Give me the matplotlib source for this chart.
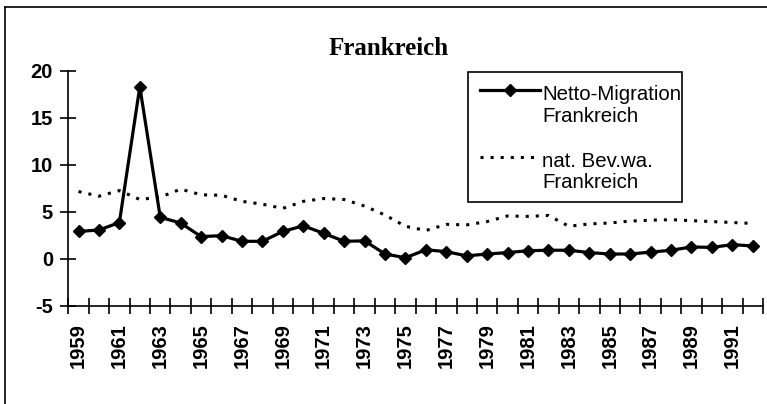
import matplotlib
matplotlib.use("Agg")
import matplotlib.pyplot as plt
from matplotlib.lines import Line2D
from matplotlib.patches import Rectangle
from matplotlib.transforms import Affine2D
import numpy as np

years = list(range(1959, 1993))
netto_migration = [2.9, 3.05, 3.85, 18.3, 4.4, 3.8, 2.35, 2.45, 1.85, 1.85,
                   2.9, 3.5, 2.7, 1.85, 1.9, 0.5, 0.1, 0.95, 0.75, 0.3,
                   0.5, 0.65, 0.85, 0.9, 0.9, 0.65, 0.5, 0.5, 0.7, 0.9,
                   1.25, 1.2, 1.5, 1.35]
nat_bevwa = [7.15, 6.65, 7.25, 6.3, 6.55, 7.4, 6.8, 6.75, 6.1, 5.8,
             5.35, 6.1, 6.4, 6.3, 5.6, 4.65, 3.45, 3.0, 3.65, 3.6,
             3.95, 4.55, 4.5, 4.6, 3.45, 3.7, 3.8, 4.0, 4.1, 4.15,
             4.05, 3.95, 3.85, 3.75]
labels = ["Netto-Migration\nFrankreich", "nat. Bev.wa.\nFrankreich"]
title = "Frankreich"
yticks = [-5, 0, 5, 10, 15, 20]

plt.rcParams['font.family'] = ['Liberation Sans', 'DejaVu Sans']

W, H = 767, 404
fig = plt.figure(figsize=(W / 100, H / 100), dpi=100)
# pixel coordinates measured from the top-left corner
px = Affine2D().scale(1 / W, -1 / H).translate(0, 1) + fig.transFigure

ax = fig.add_axes([68.3 / W, 1 - 305.7 / H, (763 - 68.3) / W, (305.7 - 70.7) / H])

x = np.arange(len(years))
solid_style = dict(color='black', lw=2.3, marker='D', ms=6.4)
dotted_style = dict(color='black', lw=2.2, linestyle=(0, (1, 2.3)))
ax.plot(x, netto_migration, zorder=3, **solid_style)
ax.plot(x, nat_bevwa, zorder=2, **dotted_style)

ax.set_xlim(-0.5, len(years) - 0.5)
ax.set_ylim(-5, 20)
for s in ['top', 'right']:
    ax.spines[s].set_visible(False)
for s in ['left', 'bottom']:
    ax.spines[s].set_linewidth(1.2)

ax.set_yticks(yticks)
ax.set_yticklabels([str(v) for v in yticks])
ax.tick_params(axis='y', direction='inout', length=12, width=1.2, pad=5,
               labelsize=14.5)

ax.set_xticks(np.arange(len(years) + 1) - 0.5)
ax.set_xticklabels([])
ax.tick_params(axis='x', which='major', direction='inout', length=12, width=1.2)
ax.set_xticks(x[::2], minor=True)
ax.set_xticklabels([str(y) for y in years[::2]], minor=True, rotation=90,
                   fontsize=14.5)
ax.tick_params(axis='x', which='minor', length=0, pad=12.5)

for lab in ax.get_yticklabels() + ax.get_xticklabels(minor=True):
    lab.set_fontweight('bold')

fig.text(389 / W, 1 - 55 / H, title, family='Liberation Serif',
         fontweight='bold', fontsize=18, ha='center', va='baseline')

# legend (drawn as a box with handles and labels)
fig.add_artist(Rectangle((468, 72), 214, 130, transform=px, fill=False,
                         edgecolor='black', lw=1.2))
fig.add_artist(Line2D([480, 510, 540], [90, 90, 90], transform=px,
                      markevery=[1], **solid_style))
fig.add_artist(Line2D([480, 534], [156.5, 156.5], transform=px, **dotted_style))
fig.text(542, 121.7, labels[0], transform=px, fontsize=14.7,
         ha='left', linespacing=1.17, va='baseline')
fig.text(542, 188.3, labels[1], transform=px, fontsize=14.7,
         ha='left', linespacing=1.17, va='baseline')

# outer frame
fig.add_artist(Line2D([5, 5], [7, H], transform=px, color='black', lw=1.2))
fig.add_artist(Line2D([5, W], [7, 7], transform=px, color='black', lw=1.2))

fig.savefig('out.png', dpi=100)
